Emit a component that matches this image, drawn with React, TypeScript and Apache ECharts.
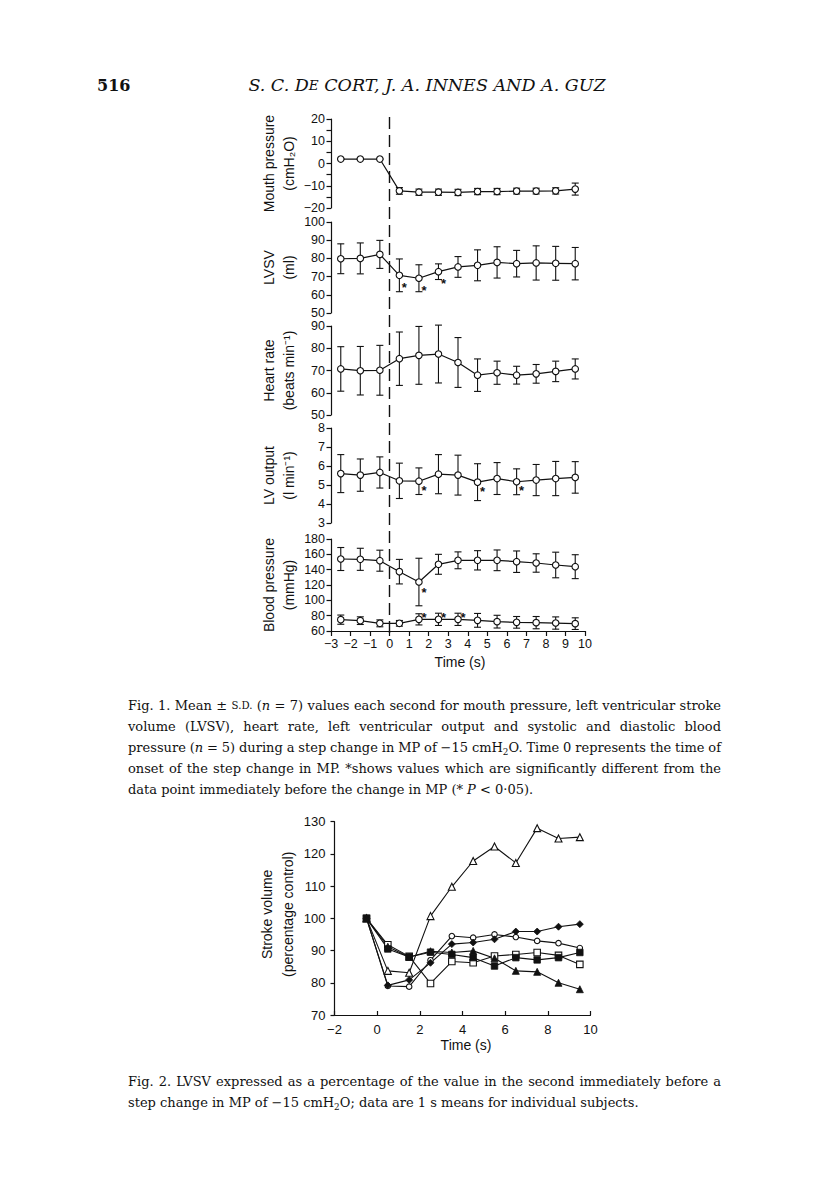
import React, { useEffect, useRef } from "react";
import * as echarts from "echarts";

// ---------------- DATA ----------------
const times = [-2.5, -1.5, -0.5, 0.5, 1.5, 2.5, 3.5, 4.5, 5.5, 6.5, 7.5, 8.5, 9.5];

const mouthMean = [2, 2, 2, -12.3, -12.9, -12.9, -13, -12.6, -12.6, -12.4, -12.4, -12.3, -11.5];
const mouthSd = [0, 0, 0, 1.5, 1.4, 1.4, 1.4, 1.4, 1.4, 1.3, 1.3, 1.4, 2.7];
const mouthSig = [0, 0, 0, 0, 0, 0, 0, 0, 0, 0, 0, 0, 0];

const lvsvMean = [79.8, 80, 82.2, 70.7, 69.1, 72.7, 75.3, 76.2, 77.8, 77.1, 77.5, 77.3, 77.1];
const lvsvSd = [8.2, 8.5, 7.7, 9, 7.4, 4.3, 5.7, 8.5, 8.6, 7.3, 9.4, 9.3, 8.9];
const lvsvSig = [0, 0, 0, 1, 1, 1, 0, 0, 0, 0, 0, 0, 0];

const hrMean = [70.7, 69.9, 70.1, 75.3, 76.8, 77.4, 73.6, 67.9, 69, 67.9, 68.5, 69.6, 70.7];
const hrSd = [10, 10.9, 11.2, 12, 13, 13, 11.2, 7.3, 5.2, 4, 4.2, 4.6, 4.5];
const hrSig = [0, 0, 0, 0, 0, 0, 0, 0, 0, 0, 0, 0, 0];

const lvoMean = [5.6, 5.52, 5.66, 5.22, 5.2, 5.57, 5.52, 5.15, 5.34, 5.17, 5.26, 5.34, 5.4];
const lvoSd = [1, 0.85, 0.82, 0.93, 0.7, 1.03, 1.05, 0.97, 0.84, 0.68, 0.82, 0.9, 0.83];
const lvoSig = [0, 0, 0, 0, 1, 0, 0, 1, 0, 1, 0, 0, 0];

const sysMean = [153.9, 153.5, 151.7, 137.4, 123.9, 147, 152.2, 152.2, 152.2, 150.4, 148.7, 146.1, 143.9];
const sysSd = [15, 14.4, 13.7, 16, 31, 13, 11, 12.6, 13.5, 14, 12, 16.7, 15.6];
const sysSig = [0, 0, 0, 0, 1, 0, 0, 0, 0, 0, 0, 0, 0];

const diaMean = [74.8, 73.5, 70, 70, 75.2, 75.2, 75.2, 73.9, 72.2, 71.3, 70.9, 70.4, 69.6];
const diaSd = [6, 5, 4.5, 3.7, 7.3, 8, 8, 9, 8.3, 7.6, 8, 8, 7.6];
const diaSig = [0, 0, 0, 0, 1, 1, 1, 0, 0, 0, 0, 0, 0];

const fig2Times = [-0.5, 0.5, 1.5, 2.5, 3.5, 4.5, 5.5, 6.5, 7.5, 8.5, 9.5];
const subjOpenTriangle = [100, 83.7, 83.1, 100.7, 109.8, 117.8, 122.3, 117.2, 128, 124.8, 125.2];
const subjOpenCircle = [100, 79, 78.8, 87, 94.5, 94, 95, 94.2, 93, 92.3, 90.8];
const subjFilledDiamond = [100, 79.2, 80.9, 86.2, 92, 92.5, 93.5, 95.9, 95.9, 97.4, 98.2];
const subjOpenSquare = [100, 91.8, 88.2, 79.8, 86.6, 86.2, 88.3, 88.8, 89.4, 88.5, 85.7];
const subjFilledSquare = [100, 90.5, 88, 89.5, 88.8, 87.8, 85.2, 87.8, 87.1, 87.8, 89.4];
const subjFilledTriangle = [100, 91.2, 88, 89.8, 89.4, 89.9, 87.6, 83.7, 83.4, 80, 78];

const fig1Caption = [
  "Fig. 1. Mean ± [sc:S.D.] ([i:n] = 7) values each second for mouth pressure, left ventricular stroke",
  "volume (LVSV), heart rate, left ventricular output and systolic and diastolic blood",
  "pressure ([i:n] = 5) during a step change in MP of −15 cmH[sub:2]O. Time 0 represents the time of",
  "onset of the step change in MP. *shows values which are significantly different from the",
  "data point immediately before the change in MP (* [i:P] < 0·05).",
];
const fig2Caption = [
  "Fig. 2. LVSV expressed as a percentage of the value in the second immediately before a",
  "step change in MP of −15 cmH[sub:2]O; data are 1 s means for individual subjects.",
];

// ---------------- STYLE / LAYOUT ----------------
const SANS = '"Liberation Sans", Arial, sans-serif';
const SERIF_NAME = "DejaVu Serif";
const INK = "#111";
const TICK_FONT = 12.5;

const F1_LEFT = 331;
const F1_WIDTH = 254;
const panels = [
  { top: 119, height: 89, min: -20, max: 20, interval: 5, every: 10, names: ["Mouth pressure", "(cmH\u2082O)"] },
  { top: 222, height: 91, min: 50, max: 100, interval: 10, every: 10, names: ["LVSV", "(ml)"] },
  { top: 326, height: 89, min: 50, max: 90, interval: 10, every: 10, names: ["Heart rate", "(beats min\u207B\u00B9)"] },
  { top: 428, height: 95, min: 3, max: 8, interval: 1, every: 1, names: ["LV output", "(l min\u207B\u00B9)"] },
  { top: 539, height: 92, min: 60, max: 180, interval: 20, every: 20, names: ["Blood pressure", "(mmHg)"] },
];
const F2 = { left: 334.5, width: 256, top: 821.7, height: 193.3 };

const fmt = (v: number) => (v < 0 ? "\u2212" + Math.abs(v) : String(v));

function errRender(params: any, api: any) {
  const x = api.value(0);
  const p1 = api.coord([x, api.value(1)]);
  const p2 = api.coord([x, api.value(2)]);
  const cap = 3.5;
  const style = { stroke: INK, lineWidth: 1.1, fill: "none" };
  return {
    type: "group",
    children: [
      { type: "line", shape: { x1: p1[0], y1: p1[1], x2: p2[0], y2: p2[1] }, style },
      { type: "line", shape: { x1: p1[0] - cap, y1: p1[1], x2: p1[0] + cap, y2: p1[1] }, style },
      { type: "line", shape: { x1: p2[0] - cap, y1: p2[1], x2: p2[0] + cap, y2: p2[1] }, style },
    ],
  };
}

function starRender(dy: number) {
  return (params: any, api: any) => {
    const p = api.coord([api.value(0), api.value(1)]);
    return {
      type: "text",
      x: p[0] + 5,
      y: p[1] + dy,
      style: {
        text: "*",
        fontSize: 13,
        fontWeight: "bold",
        fontFamily: SANS,
        fill: INK,
        align: "center",
        verticalAlign: "middle",
        textAlign: "center",
        textVerticalAlign: "middle",
      },
    };
  };
}

function panelSeries(idx: number, mean: number[], sd: number[], sig: number[], starDy: number) {
  const out: any[] = [];
  out.push({
    type: "custom",
    xAxisIndex: idx,
    yAxisIndex: idx,
    z: 2,
    silent: true,
    renderItem: errRender,
    encode: { x: 0, y: [1, 2] },
    data: times.map((t, i) => [t, mean[i] - sd[i], mean[i] + sd[i]]),
  });
  out.push({
    type: "line",
    xAxisIndex: idx,
    yAxisIndex: idx,
    z: 3,
    silent: true,
    symbol: "circle",
    symbolSize: 6.5,
    showSymbol: true,
    itemStyle: { color: "#fff", borderColor: INK, borderWidth: 1.1 },
    lineStyle: { color: INK, width: 1.2 },
    data: times.map((t, i) => [t, mean[i]]),
  });
  const starData = times.map((t, i) => [t, mean[i]]).filter((_, i) => sig[i]);
  if (starData.length) {
    out.push({
      type: "custom",
      xAxisIndex: idx,
      yAxisIndex: idx,
      z: 4,
      silent: true,
      renderItem: starRender(starDy),
      encode: { x: 0, y: 1 },
      data: starData,
    });
  }
  return out;
}

// ---------- caption layout (justified) ----------
type Seg = { text: string; kind: string };
function parseWord(w: string): Seg[] {
  const segs: Seg[] = [];
  const re = /\[(i|sc|sub):([^\]]+)\]/g;
  let last = 0;
  let m: RegExpExecArray | null;
  while ((m = re.exec(w))) {
    if (m.index > last) segs.push({ text: w.slice(last, m.index), kind: "n" });
    segs.push({ text: m[2], kind: m[1] });
    last = re.lastIndex;
  }
  if (last < w.length) segs.push({ text: w.slice(last), kind: "n" });
  return segs;
}

function layoutParagraph(
  ctx: CanvasRenderingContext2D,
  lines: string[],
  x0: number,
  x1: number,
  y0: number,
  lineGap: number,
  size: number
) {
  const els: any[] = [];
  const segInfo = (kind: string) => {
    const fs = kind === "sc" ? size * 0.78 : kind === "sub" ? size * 0.68 : size;
    let dy = 0.345 * (size - fs);
    if (kind === "sub") dy += size * 0.28;
    return { fs, italic: kind === "i", dy };
  };
  const measure = (text: string, fs: number, italic: boolean) => {
    ctx.font = `${italic ? "italic " : ""}${fs}px "${SERIF_NAME}"`;
    return ctx.measureText(text).width;
  };
  const spaceW = measure(" ", size, false);
  lines.forEach((line, li) => {
    const y = y0 + li * lineGap;
    const words = line.split(" ").map((w) =>
      parseWord(w).map((s) => {
        const info = segInfo(s.kind);
        return { ...s, ...info, w: measure(s.text, info.fs, info.italic) };
      })
    );
    const widths = words.map((ws) => ws.reduce((a, s) => a + s.w, 0));
    const total = widths.reduce((a, b) => a + b, 0);
    const justify = li < lines.length - 1 && words.length > 1;
    const gap = justify ? (x1 - x0 - total) / (words.length - 1) : spaceW;
    let x = x0;
    words.forEach((ws) => {
      ws.forEach((s) => {
        els.push({
          type: "text",
          x,
          y: y + s.dy,
          silent: true,
          style: {
            text: s.text,
            fontSize: s.fs,
            fontFamily: `"${SERIF_NAME}", serif`,
            fontStyle: s.italic ? "italic" : "normal",
            fill: INK,
            align: "left",
            verticalAlign: "middle",
            textAlign: "left",
            textVerticalAlign: "middle",
          },
        });
        x += s.w;
      });
      x += gap;
    });
  });
  return els;
}

function textEl(text: string, x: number, y: number, fontSize: number, extra: any = {}, rotation = 0) {
  return {
    type: "text",
    x,
    y,
    rotation,
    silent: true,
    style: {
      text,
      fontSize,
      fontFamily: SANS,
      fill: INK,
      align: "center",
      verticalAlign: "middle",
      textAlign: "center",
      textVerticalAlign: "middle",
      ...extra,
    },
  };
}

function buildOption(ctx: CanvasRenderingContext2D) {
  const grid: any[] = [];
  const xAxis: any[] = [];
  const yAxis: any[] = [];
  const series: any[] = [];
  const axisLineStyle = { color: INK, width: 1.2 };

  panels.forEach((p, i) => {
    grid.push({ left: F1_LEFT, width: F1_WIDTH, top: p.top, height: p.height, outerBoundsMode: "none", containLabel: false });
    xAxis.push({
      gridIndex: i,
      type: "value",
      min: -3,
      max: 10,
      interval: 1,
      show: i === 4,
      axisLine: { show: true, onZero: false, lineStyle: axisLineStyle },
      axisTick: { show: true, length: 5, lineStyle: axisLineStyle },
      axisLabel: { fontSize: TICK_FONT, color: INK, fontFamily: SANS, margin: 6, formatter: fmt },
      splitLine: { show: false },
    });
    yAxis.push({
      gridIndex: i,
      type: "value",
      min: p.min,
      max: p.max,
      interval: p.interval,
      axisLine: { show: true, onZero: false, lineStyle: axisLineStyle },
      axisTick: { show: true, length: 4.5, lineStyle: axisLineStyle },
      axisLabel: {
        fontSize: TICK_FONT,
        color: INK,
        fontFamily: SANS,
        margin: 6,
        formatter: (v: number) => (Math.abs(v % p.every) < 1e-9 ? fmt(v) : ""),
      },
      splitLine: { show: false },
    });
  });

  // overlay grid (5) for the dashed line at time 0 across all panels
  grid.push({ left: F1_LEFT, width: F1_WIDTH, top: 113, height: 520, outerBoundsMode: "none", containLabel: false });
  xAxis.push({ gridIndex: 5, type: "value", min: -3, max: 10, show: false });
  yAxis.push({ gridIndex: 5, type: "value", min: 0, max: 1, show: false });

  // fig 2 grid (6)
  grid.push({ left: F2.left, width: F2.width, top: F2.top, height: F2.height, outerBoundsMode: "none", containLabel: false });
  xAxis.push({
    gridIndex: 6,
    type: "value",
    min: -2,
    max: 10,
    interval: 2,
    axisLine: { show: true, onZero: false, lineStyle: axisLineStyle },
    axisTick: { show: true, inside: true, length: 4, lineStyle: axisLineStyle },
    axisLabel: { fontSize: 13, color: INK, fontFamily: SANS, margin: 8, formatter: fmt },
    splitLine: { show: false },
  });
  yAxis.push({
    gridIndex: 6,
    type: "value",
    min: 70,
    max: 130,
    interval: 10,
    axisLine: { show: true, onZero: false, lineStyle: axisLineStyle },
    axisTick: { show: true, length: 4, lineStyle: axisLineStyle },
    axisLabel: { fontSize: 13, color: INK, fontFamily: SANS, margin: 9, formatter: fmt },
    splitLine: { show: false },
  });

  series.push(...panelSeries(0, mouthMean, mouthSd, mouthSig, 0));
  series.push(...panelSeries(1, lvsvMean, lvsvSd, lvsvSig, 12));
  series.push(...panelSeries(2, hrMean, hrSd, hrSig, 0));
  series.push(...panelSeries(3, lvoMean, lvoSd, lvoSig, 9));
  series.push(...panelSeries(4, sysMean, sysSd, sysSig, 10));
  series.push(...panelSeries(4, diaMean, diaSd, diaSig, -2));

  series.push({
    type: "line",
    xAxisIndex: 5,
    yAxisIndex: 5,
    silent: true,
    showSymbol: false,
    lineStyle: { opacity: 0 },
    data: [[-3, 0]],
    markLine: {
      silent: true,
      symbol: ["none", "none"],
      label: { show: false },
      lineStyle: { type: [12, 6], color: INK, width: 1.4 },
      data: [{ xAxis: 0 }],
    },
  });

  const fig2Defs = [
    { data: subjOpenTriangle, symbol: "triangle", size: 7, filled: false },
    { data: subjOpenCircle, symbol: "circle", size: 5.5, filled: false },
    { data: subjFilledDiamond, symbol: "diamond", size: 7, filled: true },
    { data: subjOpenSquare, symbol: "rect", size: 6.5, filled: false },
    { data: subjFilledSquare, symbol: "rect", size: 6.5, filled: true },
    { data: subjFilledTriangle, symbol: "triangle", size: 7, filled: true },
  ];
  fig2Defs.forEach((d) => {
    series.push({
      type: "line",
      xAxisIndex: 6,
      yAxisIndex: 6,
      silent: true,
      symbol: d.symbol,
      symbolSize: d.size,
      showSymbol: true,
      itemStyle: d.filled
        ? { color: INK, borderColor: INK, borderWidth: 0.8 }
        : { color: "#fff", borderColor: INK, borderWidth: 1.1 },
      lineStyle: { color: INK, width: 1.1 },
      data: fig2Times.map((t, i) => [t, d.data[i]]),
    });
  });

  // graphic texts
  const els: any[] = [];
  els.push({
    type: "text",
    x: 97,
    y: 85,
    silent: true,
    style: {
      text: "516",
      fontSize: 16,
      fontWeight: "bold",
      fontFamily: `"${SERIF_NAME}", serif`,
      fill: INK,
      align: "left",
      verticalAlign: "middle",
      textAlign: "left",
      textVerticalAlign: "middle",
    },
  });
  els.push({
    type: "text",
    x: 427,
    y: 85,
    silent: true,
    style: {
      text: "{a|S. C. D}{b|E}{a| CORT, J. A. INNES AND A. GUZ}",
      fill: INK,
      align: "center",
      verticalAlign: "middle",
      textAlign: "center",
      textVerticalAlign: "middle",
      rich: {
        a: { fontSize: 17.5, fontStyle: "italic", fontFamily: `"${SERIF_NAME}", serif`, fill: INK, color: INK },
        b: { fontSize: 13.5, fontStyle: "italic", fontFamily: `"${SERIF_NAME}", serif`, fill: INK, color: INK },
      },
    },
  });

  panels.forEach((p) => {
    const cy = p.top + p.height / 2;
    els.push(textEl(p.names[0], 269, cy, 14, {}, Math.PI / 2));
    els.push(textEl(p.names[1], 289, cy, 14, {}, Math.PI / 2));
  });
  els.push(textEl("Time (s)", 460, 662, 14));

  const f2cy = F2.top + F2.height / 2;
  els.push(textEl("Stroke volume", 267, f2cy - 4, 14, {}, Math.PI / 2));
  els.push(textEl("(percentage control)", 288, f2cy - 4, 14, {}, Math.PI / 2));
  els.push(textEl("Time (s)", 466, 1045, 14));

  els.push(...layoutParagraph(ctx, fig1Caption, 128, 721, 705, 21, 13));
  els.push(...layoutParagraph(ctx, fig2Caption, 128, 721, 1081, 21, 13));

  return {
    animation: false,
    backgroundColor: "#fff",
    grid,
    xAxis,
    yAxis,
    series,
    graphic: { elements: els },
  };
}

export default function App() {
  const ref = useRef<HTMLDivElement>(null);
  useEffect(() => {
    if (!ref.current) return;
    const canvas = document.createElement("canvas");
    const ctx = canvas.getContext("2d") as CanvasRenderingContext2D;
    const chart = echarts.init(ref.current, null, { renderer: "svg", width: 816, height: 1183 });
    chart.setOption(buildOption(ctx));
    return () => chart.dispose();
  }, []);
  return (
    <div
      ref={ref}
      style={{ position: "fixed", left: 0, top: 0, width: 816, height: 1183, background: "#fff" }}
    />
  );
}
